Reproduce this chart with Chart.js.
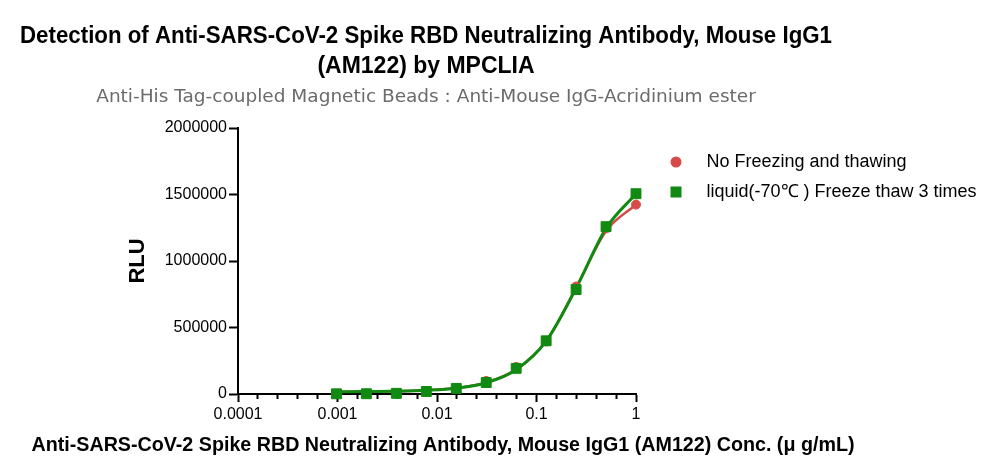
<!DOCTYPE html>
<html>
<head>
<meta charset="utf-8">
<script src="https://cdn.jsdelivr.net/npm/chart.js@4.4.1/dist/chart.umd.min.js"></script>
<style>
  html, body { margin: 0; padding: 0; background: #fff; }
  #wrap { width: 1000px; height: 476px; }
</style>
</head>
<body>
<div id="wrap"><canvas id="chart" width="1000" height="476"></canvas></div>
<script>
// 2-fold dilution series, ug/mL
const conc = [0.0009765625, 0.001953125, 0.00390625, 0.0078125, 0.015625, 0.03125, 0.0625, 0.125, 0.25, 0.5, 1];

// measured RLU (points)
const redRLU   = [2000, 3000, 6000, 20000, 42000, 98000, 203000, 395000, 808000, 1245000, 1424000];
const greenRLU = [1500, 2000, 5000, 19000, 42000, 86000, 193000, 400000, 785000, 1258000, 1506000];

// fitted curves at the same concentrations
const redFit   = [17000, 19000, 22000, 29000, 45000, 86000, 185000, 396000, 800000, 1225000, 1425000];
const greenFit = [16000, 18000, 21000, 28000, 44000, 85000, 183000, 398000, 795000, 1245000, 1505000];

const seriesNames = ['No Freezing and thawing', 'liquid(-70\u2103 ) Freeze thaw 3 times'];

const xMajorTicks = [0.0001, 0.001, 0.01, 0.1, 1];
const xTickLabels = ['0.0001', '0.001', '0.01', '0.1', '1'];
const yTicks = [0, 500000, 1000000, 1500000, 2000000];

const titleLines = [
  'Detection of Anti-SARS-CoV-2 Spike RBD Neutralizing Antibody, Mouse IgG1',
  '(AM122) by MPCLIA'
];
const subtitleText = 'Anti-His Tag-coupled Magnetic Beads : Anti-Mouse IgG-Acridinium ester';
const xTitle = 'Anti-SARS-CoV-2 Spike RBD Neutralizing Antibody, Mouse IgG1 (AM122) Conc. (\u03bc g/mL)';

const RED = '#D84A4A';
const GREEN = '#108A10';

// four minor ticks per decade, evenly spaced in log space
const minorTicks = [];
for (let d = -4; d < 0; d++) {
  for (let k = 1; k < 5; k++) minorTicks.push(Math.pow(10, d + k / 5));
}

function pts(ys) { return conc.map((x, i) => ({ x, y: ys[i] })); }

function icon(shape, color) {
  const c = document.createElement('canvas');
  c.width = 12; c.height = 12;
  const g = c.getContext('2d');
  g.fillStyle = color;
  if (shape === 'circle') { g.beginPath(); g.arc(6, 6, 5.5, 0, Math.PI * 2); g.fill(); }
  else g.fillRect(0.5, 0.5, 11, 11);
  return c;
}
const legendIcons = [icon('circle', RED), icon('rect', GREEN)];

const tickFont = { family: 'Liberation Sans', size: 16 };

// move the legend block to where the reference has it; widen its clip so the text is not cut
const legendOffset = {
  id: 'legendOffset',
  afterLayout(chart) {
    const l = chart.legend;
    l.left += 6.5; l.right = chart.width;
    l.top += 13; l.bottom += 13;
  }
};

// the axis caption is wider than the plot, which the scale title would squeeze
const xCaption = {
  id: 'xCaption',
  afterDraw(chart) {
    const s = chart.scales.x, ctx = chart.ctx;
    ctx.save();
    ctx.font = 'bold 20px "Liberation Sans"';
    ctx.fillStyle = '#000';
    ctx.textAlign = 'center';
    ctx.textBaseline = 'middle';
    ctx.fillText(xTitle, (s.left + s.right) / 2 + 6, s.bottom - 31, 823);
    ctx.restore();
  }
};

Chart.defaults.font.family = 'Liberation Sans';

new Chart(document.getElementById('chart'), {
  type: 'line',
  data: {
    datasets: [
      { label: seriesNames[0], data: pts(redRLU), showLine: false, pointStyle: 'circle', pointRadius: 4.5,
        pointBorderWidth: 1, backgroundColor: RED, borderColor: RED, order: 1, clip: false },
      { label: seriesNames[1], data: pts(greenRLU), showLine: false, pointStyle: 'rect', pointRadius: 7,
        pointBorderWidth: 1, backgroundColor: GREEN, borderColor: GREEN, order: 0, clip: false },
      { label: 'fit1', data: pts(redFit), pointRadius: 0, borderColor: RED, borderWidth: 2.5,
        cubicInterpolationMode: 'monotone', order: 3, clip: false },
      { label: 'fit2', data: pts(greenFit), pointRadius: 0, borderColor: GREEN, borderWidth: 3,
        cubicInterpolationMode: 'monotone', order: 2, clip: false }
    ]
  },
  options: {
    responsive: false,
    animation: false,
    events: [],
    layout: { padding: { left: 20, right: 168, top: 0, bottom: 0 } },
    plugins: {
      tooltip: { enabled: false },
      title: {
        display: true, text: titleLines, color: '#000',
        font: { family: 'Liberation Sans', weight: 'bold', size: 23, lineHeight: '30px' },
        padding: { top: 22, bottom: 4 }
      },
      subtitle: {
        display: true, text: subtitleText, color: '#6b6b6b',
        font: { family: 'DejaVu Sans', size: 18.5, lineHeight: '22px' },
        padding: { top: 0, bottom: 20 }
      },
      legend: {
        position: 'right', align: 'start', fullSize: false, maxWidth: 196,
        labels: {
          usePointStyle: true, pointStyleWidth: 43, boxHeight: 18, padding: 12,
          color: '#000', font: { family: 'Liberation Sans', size: 18 },
          generateLabels(chart) {
            return Chart.defaults.plugins.legend.labels.generateLabels(chart)
              .map(l => Object.assign(l, { pointStyle: legendIcons[l.datasetIndex] }));
          },
          filter: item => item.datasetIndex < 2,
          sort: (a, b) => a.datasetIndex - b.datasetIndex
        }
      }
    },
    scales: {
      x: {
        type: 'logarithmic', min: 0.0001, max: 1,
        afterBuildTicks: s => { s.ticks = xMajorTicks.map(v => ({ value: v })); },
        ticks: { callback: (v, i) => xTickLabels[i], font: tickFont, color: '#000', padding: 3, maxRotation: 0, autoSkip: false },
        grid: { drawOnChartArea: false, tickLength: 8, tickWidth: 2, tickColor: '#000' },
        border: { color: '#000', width: 2 },
        afterFit: s => { s.height = 82; }
      },
      x2: {
        axis: 'x', type: 'logarithmic', min: 0.0001, max: 1,
        position: { y: 0 },
        afterBuildTicks: s => { s.ticks = minorTicks.map(v => ({ value: v })); },
        ticks: { display: false },
        grid: { drawOnChartArea: false, tickLength: 5, tickWidth: 2, tickColor: '#000' },
        border: { display: false }
      },
      y: {
        min: 0, max: 2000000,
        afterBuildTicks: s => { s.ticks = yTicks.map(v => ({ value: v })); },
        ticks: { callback: v => String(v), font: tickFont, color: '#000', padding: 2 },
        grid: { drawOnChartArea: false, tickLength: 9, tickWidth: 2, tickColor: '#000' },
        border: { color: '#000', width: 2 },
        title: {
          display: true, text: 'RLU', color: '#000',
          font: { family: 'Liberation Sans', weight: 'bold', size: 22 },
          padding: { top: 105, bottom: 0 }
        },
        afterFit: s => { s.width = 218; }
      }
    }
  },
  plugins: [legendOffset, xCaption]
});
</script>
</body>
</html>
